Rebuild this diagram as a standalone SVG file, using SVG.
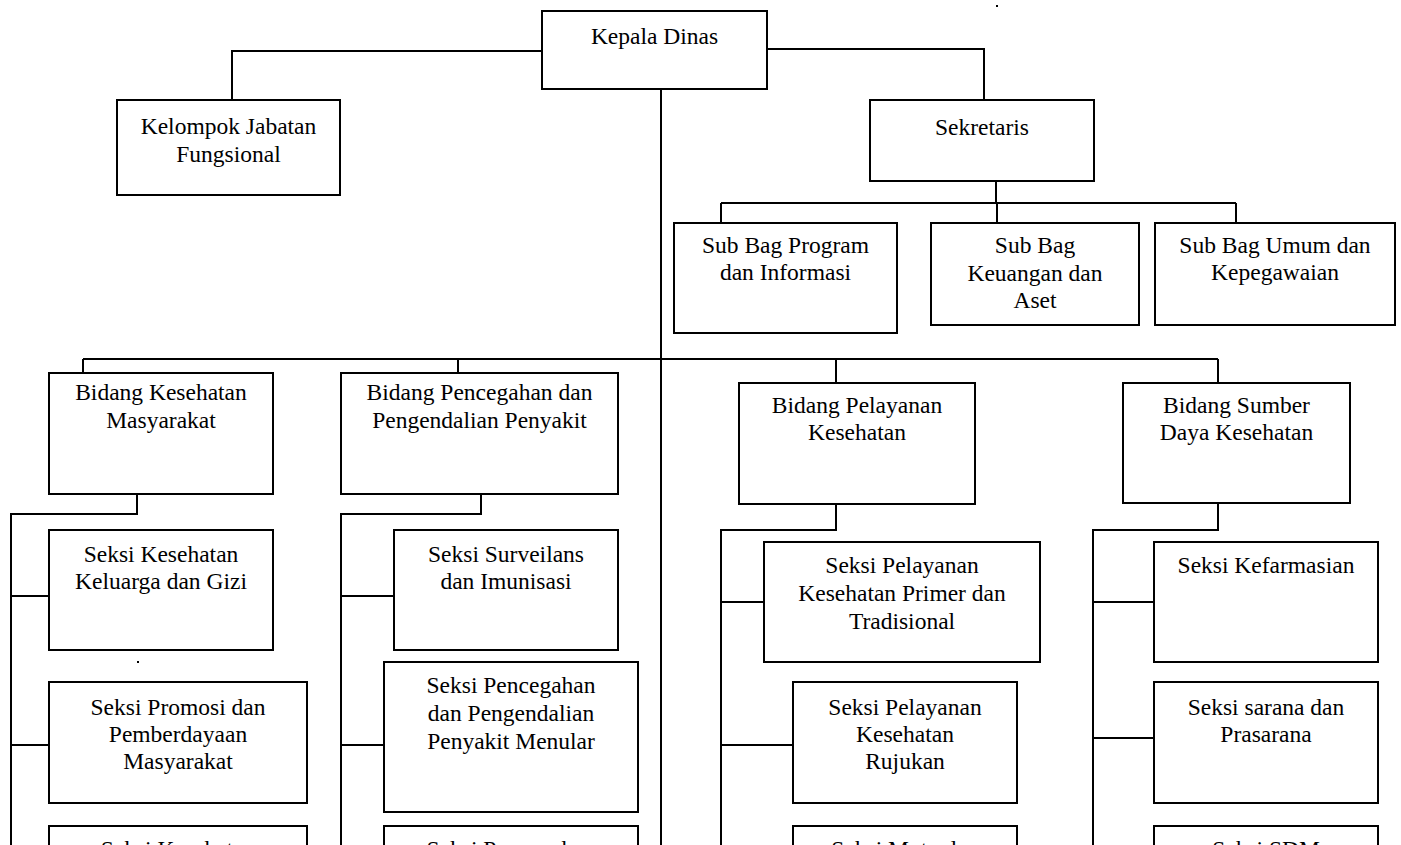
<svg xmlns="http://www.w3.org/2000/svg" width="1401" height="845" viewBox="0 0 1401 845">
<style>
.box{fill:#fff;stroke:#000;stroke-width:2}
.ln{fill:none;stroke:#000;stroke-width:2}
.t{font-family:"Liberation Serif","Times New Roman",serif;font-size:23.5px;text-anchor:middle;fill:#000}
</style>
<rect width="1401" height="845" fill="#fff"/>
<g id="connectors">
<path class="ln" d="M542,51 H232 V100"/>
<path class="ln" d="M767,49 H984 V100"/>
<path class="ln" d="M996,181 V203 M721,203 H1236 M721,203 V223 M997,203 V223 M1236,203 V223"/>
<path class="ln" d="M661,89 V845"/>
<path class="ln" d="M83,359 H1218 M83,359 V373 M458,359 V373 M836,359 V383 M1218,359 V383"/>
<path class="ln" d="M137,494 V514 H11 V845 M11,596 H49 M11,745 H49"/>
<path class="ln" d="M481,494 V514 H341 V845 M341,596 H394 M341,745 H384"/>
<path class="ln" d="M836,504 V530 H721 V845 M721,602 H764 M721,745 H793"/>
<path class="ln" d="M1218,503 V530 H1093 V845 M1093,602 H1154 M1093,738 H1154"/>
</g>
<g id="kepala-dinas"><rect class="box" x="542" y="11" width="225" height="78"/><text class="t" x="654.5" y="44">Kepala Dinas</text></g>
<g id="kelompok-jabatan"><rect class="box" x="117" y="100" width="223" height="95"/><text class="t" x="228.5" y="134">Kelompok Jabatan</text><text class="t" x="228.5" y="162">Fungsional</text></g>
<g id="sekretaris"><rect class="box" x="870" y="100" width="224" height="81"/><text class="t" x="982" y="135">Sekretaris</text></g>
<g id="subbag-program"><rect class="box" x="674" y="223" width="223" height="110"/><text class="t" x="785.5" y="253">Sub Bag Program</text><text class="t" x="785.5" y="280">dan Informasi</text></g>
<g id="subbag-keuangan"><rect class="box" x="931" y="223" width="208" height="102"/><text class="t" x="1035" y="253">Sub Bag</text><text class="t" x="1035" y="280.5">Keuangan dan</text><text class="t" x="1035" y="308">Aset</text></g>
<g id="subbag-umum"><rect class="box" x="1155" y="223" width="240" height="102"/><text class="t" x="1275" y="253">Sub Bag Umum dan</text><text class="t" x="1275" y="280">Kepegawaian</text></g>
<g id="bidang-kesmas"><rect class="box" x="49" y="373" width="224" height="121"/><text class="t" x="161" y="400">Bidang Kesehatan</text><text class="t" x="161" y="427.5">Masyarakat</text></g>
<g id="bidang-p2p"><rect class="box" x="341" y="373" width="277" height="121"/><text class="t" x="479.5" y="400">Bidang Pencegahan dan</text><text class="t" x="479.5" y="427.5">Pengendalian Penyakit</text></g>
<g id="bidang-pelayanan"><rect class="box" x="739" y="383" width="236" height="121"/><text class="t" x="857" y="412.5">Bidang Pelayanan</text><text class="t" x="857" y="440">Kesehatan</text></g>
<g id="bidang-sdk"><rect class="box" x="1123" y="383" width="227" height="120"/><text class="t" x="1236.5" y="412.5">Bidang Sumber</text><text class="t" x="1236.5" y="440">Daya Kesehatan</text></g>
<g id="seksi-kkg"><rect class="box" x="49" y="530" width="224" height="120"/><text class="t" x="161" y="561.5">Seksi Kesehatan</text><text class="t" x="161" y="588.5">Keluarga dan Gizi</text></g>
<g id="seksi-promosi"><rect class="box" x="49" y="682" width="258" height="121"/><text class="t" x="178" y="715">Seksi Promosi dan</text><text class="t" x="178" y="742">Pemberdayaan</text><text class="t" x="178" y="769">Masyarakat</text></g>
<g id="seksi-kesehatan-3"><rect class="box" x="49" y="826" width="258" height="60"/><text class="t" x="178" y="857">Seksi Kesehatan</text></g>
<g id="seksi-surveilans"><rect class="box" x="394" y="530" width="224" height="120"/><text class="t" x="506" y="561.5">Seksi Surveilans</text><text class="t" x="506" y="588.5">dan Imunisasi</text></g>
<g id="seksi-p2pm"><rect class="box" x="384" y="662" width="254" height="150"/><text class="t" x="511" y="693">Seksi Pencegahan</text><text class="t" x="511" y="721">dan Pengendalian</text><text class="t" x="511" y="749">Penyakit Menular</text></g>
<g id="seksi-pencegahan-3"><rect class="box" x="384" y="826" width="254" height="60"/><text class="t" x="511" y="857">Seksi Pencegahan</text></g>
<g id="seksi-primer"><rect class="box" x="764" y="542" width="276" height="120"/><text class="t" x="902" y="573">Seksi Pelayanan</text><text class="t" x="902" y="601">Kesehatan Primer dan</text><text class="t" x="902" y="629">Tradisional</text></g>
<g id="seksi-rujukan"><rect class="box" x="793" y="682" width="224" height="121"/><text class="t" x="905" y="715">Seksi Pelayanan</text><text class="t" x="905" y="742">Kesehatan</text><text class="t" x="905" y="769">Rujukan</text></g>
<g id="seksi-mutu"><rect class="box" x="793" y="826" width="224" height="60"/><text class="t" x="905" y="857">Seksi Mutu dan</text></g>
<g id="seksi-kefarmasian"><rect class="box" x="1154" y="542" width="224" height="120"/><text class="t" x="1266" y="573">Seksi Kefarmasian</text></g>
<g id="seksi-sarana"><rect class="box" x="1154" y="682" width="224" height="121"/><text class="t" x="1266" y="715">Seksi sarana dan</text><text class="t" x="1266" y="742">Prasarana</text></g>
<g id="seksi-sdm"><rect class="box" x="1154" y="826" width="224" height="60"/><text class="t" x="1266" y="857">Seksi SDM</text></g>
<rect x="996" y="5" width="2" height="2" fill="#000"/>
<rect x="137" y="661" width="2" height="2" fill="#000"/>
</svg>
